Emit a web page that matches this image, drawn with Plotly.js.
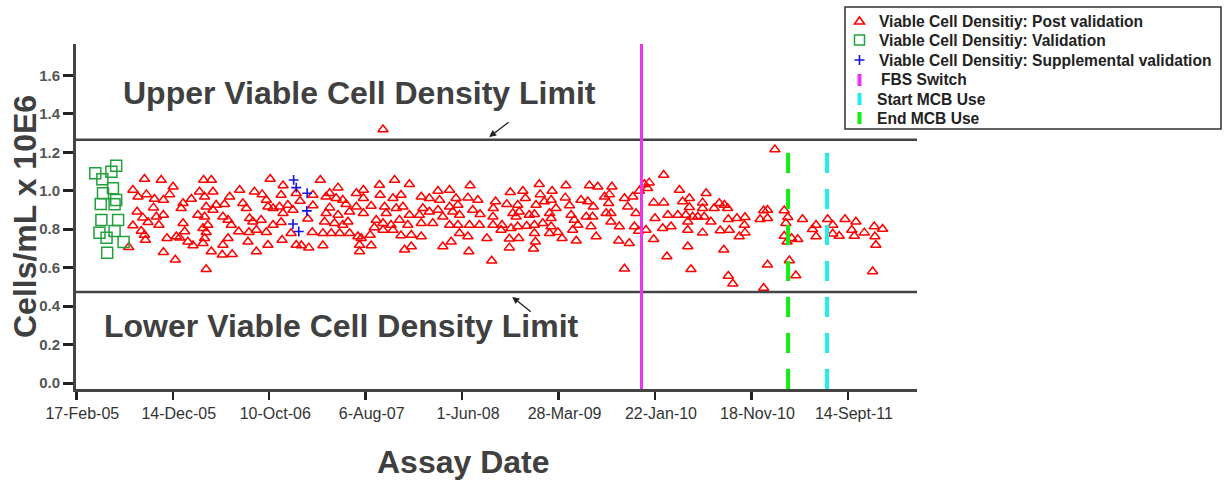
<!DOCTYPE html>
<html>
<head>
<meta charset="utf-8">
<script src="https://cdn.plot.ly/plotly-3.0.1.min.js"></script>
<style>html,body{margin:0;padding:0;background:#fff;}#chart{width:1226px;height:481px;}</style>
</head>
<body>
<div id="chart"></div>
<script>
// ---- data (days after 17-Feb-05, and viable cell density in cells/mL x 10E6) ----
const startDate = '2005-02-17';

const tickDates = ['2005-02-17','2005-12-14','2006-10-10','2007-08-06','2008-06-01','2009-03-28','2010-01-22','2010-11-18','2011-09-14'];
const tickLabels = ['17-Feb-05','14-Dec-05','10-Oct-06','6-Aug-07','1-Jun-08','28-Mar-09','22-Jan-10','18-Nov-10','14-Sept-11'];

const yTickVals = [0, 0.2, 0.4, 0.6, 0.8, 1.0, 1.2, 1.4, 1.6];
const yTickLabels = ['0.0', '0.2', '0.4', '0.6', '0.8', '1.0', '1.2', '1.4', '1.6'];

const upperLimit = 1.265;
const lowerLimit = 0.473;

const eventNames = ['FBS Switch', 'Start MCB Use', 'End MCB Use'];
const eventDates = ['2009-12-11', '2011-07-11', '2011-03-12'];

const seriesNames = ['Viable Cell Densitiy: Post validation', 'Viable Cell Densitiy: Validation', 'Viable Cell Densitiy: Supplemental validation'];

const validationDays = [59,81,109,124,114,83,124,76,119,78,130,72,119,94,147,96];
const validationVals = [1.091,1.060,1.099,1.130,1.013,0.987,0.952,0.931,0.930,0.848,0.848,0.782,0.791,0.756,0.734,0.678];

const supplementalDays = [676,684,718,717,674,692];
const supplementalVals = [1.056,1.016,0.987,0.895,0.827,0.788];

const postDays = [
 163,212,264,396,420,603,176,192,218,243, 271,290,301,240,189,207,223,249,271,257,
 176,202,212,215,271,308,282,311,326,332, 358,383,399,425,404,435,461,425,378,399,
 456,472,332,337,321,347,363,394,409,404, 399,394,420,456,472,454,485,404,477,508,
 482,505,518,529,539,534,560,537,560,554, 578,591,596,612,575,596,591,549,612,
 643,637,632,658,643,674,684,696,736,736, 720,637,668,640,684,700,723,767,734,759,
 814,788,777,808,829,839,788,777,814,850, 871,803,772,829,845,767,793,819,850,876,
 886,881,881,917,914,927,871,893,893,917, 893,933,943,945,959,964,990,985,1010,995,
 1016,954,979,1005,954,985,1010,1036,1036,1031, 1042,1021,1042,1073,1078,1067,1073,1073,1098,1098,
 1109,1125,1130,1125,1140,1161,1161,1181,1187,1171, 1192,1161,1192,1187,1218,1225,1233,1223,1218,1140,
 1166,1221,954,
 1249,1256,1254,1277,1292,1304,1297,1296,1296,1324, 1321,1339,1350,1389,1397,1373,1358,1378,1368,1352,
 1373,1347,1376,1347,1401,1409,1425,1430,1440,1443, 1456,1425,1425,1428,1422,1480,1477,1492,1472,1477,
 1451,1477,1472,1498,1511,1523,1521,1534,1539,1549, 1560,1544,1555,1570,1591,1596,1622,1608,1586,1606,
 1601,1617,1643,1658,1666,1656,1648,1663,1663,1689, 1687,1720,1705,1705,1715,1731,1741,1736,1749,1751,
 1767,
 1777,1782,1827,1772,1796,1796,1827,1800,1824,1840, 1850,1871,1876,1886,1907,1907,1896,1902,1902,1917,
 1933,1948,1959,1948,1953,1974,1948,1902,1837,1912, 1984,2000,2016,2026,2003,2031,2014,2028,2062,2080,
 2078,2055,2080,2028,2042,2138,2127,2138,2150,2150, 2150,2173,2202,2213,2207,2202,2211,2225,2244,2218,
 2238,2259,2290,2301,2301,2337,2353,2353,2373,2391, 2412,2425,2420,2451,2482,2484,2487,2508,2477
];
const postVals = [
 0.706,1.061,1.056,1.056,1.056,1.061,1.004,0.969,0.981,0.957, 0.952,0.981,1.021,0.912,0.891,0.860,0.836,0.865,0.874,0.822,
 0.819,0.791,0.770,0.744,0.680,0.641,0.753,0.762,0.909,0.935, 0.957,0.995,0.969,0.995,0.917,0.926,0.930,0.900,0.874,0.865,
 0.865,0.848,0.831,0.788,0.756,0.735,0.715,0.805,0.822,0.784, 0.753,0.727,0.684,0.718,0.753,0.667,0.670,0.592,0.969,1.004,
 0.822,0.788,0.935,0.909,0.857,0.735,0.684,0.784,0.796,0.995, 0.981,0.952,0.917,0.909,0.848,0.718,0.784,0.839,0.822,
 1.027,0.978,0.917,0.926,0.883,0.900,0.987,0.947,0.978,0.923, 0.854,0.836,0.779,0.744,0.718,0.715,0.704,0.715,0.784,1.056,
 1.016,0.987,0.969,0.961,0.952,0.930,0.912,0.883,0.874,0.891, 0.917,0.831,0.839,0.822,0.839,0.779,0.779,0.779,0.779,0.762,
 0.753,0.718,0.684,0.715,0.770,0.809,0.987,1.004,0.961,0.921, 0.883,0.848,1.030,0.978,0.917,0.883,1.056,0.961,0.978,0.909,
 0.917,0.831,0.822,0.848,0.796,0.796,0.767,1.034,0.874,0.822, 0.770,0.693,0.710,0.969,0.909,0.874,0.831,0.762,0.961,0.891,
 0.831,0.999,0.952,0.900,0.865,1.004,0.917,0.961,0.926,0.891, 0.874,0.822,0.779,0.822,0.964,1.027,0.900,0.822,0.762,0.710,
 0.735,0.684,1.318,
 0.952,0.878,0.822,0.753,0.636,0.944,0.909,0.865,0.822,0.822, 0.796,0.930,0.992,0.999,0.961,0.926,0.883,0.891,0.865,0.805,
 0.814,0.750,0.753,0.704,0.817,0.874,0.878,0.926,1.034,0.981, 0.944,0.822,0.779,0.735,0.698,0.999,0.952,0.909,0.883,0.857,
 0.831,0.814,0.779,0.784,0.753,1.027,0.964,0.923,0.874,0.848, 0.822,0.796,0.740,0.952,0.944,1.027,1.021,0.917,0.865,0.865,
 0.814,0.762,0.969,0.981,1.021,0.935,0.883,0.883,0.839,0.814, 0.740,0.727,0.594,0.961,0.917,0.969,0.883,0.814,0.791,0.999,
 1.034,
 1.013,1.042,1.082,0.796,0.748,0.938,0.938,0.857,0.805,0.874, 0.814,0.874,1.004,0.944,0.961,0.914,0.874,0.839,0.796,0.865,
 0.865,0.938,0.987,0.909,0.865,0.839,0.782,0.710,0.658,0.592, 0.909,0.935,0.926,0.909,0.793,0.796,0.693,0.852,0.762,0.782,
 0.822,0.857,0.862,0.557,0.516,0.494,0.852,0.897,0.900,0.857, 0.615,1.214,0.897,0.862,0.831,0.765,0.735,0.753,0.748,0.637,
 0.559,0.852,0.800,0.822,0.762,0.852,0.822,0.776,0.765,0.852, 0.796,0.839,0.765,0.782,0.814,0.762,0.718,0.801,0.580
];

// ---- helpers ----
const START_MS = Date.parse(startDate + 'T00:00:00Z');
function dayToDate(d) { return new Date(START_MS + d * 86400000).toISOString().slice(0, 10); }

const W = 1226, H = 481;
const M = { l: 76, r: 309, t: 44, b: 92 };
const PW = W - M.l - M.r, PH = H - M.t - M.b;
const px = v => (v - M.l) / PW;        // page pixel -> paper x
const py = v => (H - M.b - v) / PH;    // page pixel -> paper y

const colPost = '#ff0000', colVal = '#22a03c', colSup = '#1515e0';
const eventColors = ['#ee33ee', '#22eeee', '#11ee11'];
const fontMain = 'Liberation Sans, Arial, sans-serif';
const fontNarrow = 'Liberation Sans Narrow, Arial Narrow, Liberation Sans, Arial, sans-serif';

const traces = [
  { type: 'scatter', mode: 'markers', name: seriesNames[0], showlegend: false,
    x: postDays.map(dayToDate), y: postVals,
    marker: { symbol: 'triangle-up-open', size: 9, color: colPost, line: { width: 1.5, color: colPost } } },
  { type: 'scatter', mode: 'markers', name: seriesNames[1], showlegend: false,
    x: validationDays.map(dayToDate), y: validationVals,
    marker: { symbol: 'square-open', size: 11, color: colVal, line: { width: 1.5, color: colVal } } },
  { type: 'scatter', mode: 'markers', name: seriesNames[2], showlegend: false,
    x: supplementalDays.map(dayToDate), y: supplementalVals,
    marker: { symbol: 'cross-thin-open', size: 7, color: colSup, line: { width: 1.6, color: colSup } } }
];

const shapes = [
  { type: 'line', xref: 'paper', x0: 0, x1: 1, yref: 'y', y0: upperLimit, y1: upperLimit, line: { color: '#444', width: 2.5 } },
  { type: 'line', xref: 'paper', x0: 0, x1: 1, yref: 'y', y0: lowerLimit, y1: lowerLimit, line: { color: '#444', width: 2.5 } },
  { type: 'line', xref: 'x', x0: eventDates[0], x1: eventDates[0], yref: 'paper', y0: 0, y1: 1, line: { color: eventColors[0], width: 3 } },
  { type: 'line', xref: 'x', x0: eventDates[2], x1: eventDates[2], yref: 'y', y0: -0.031, y1: upperLimit, line: { color: eventColors[2], width: 4, dash: '20px,16px' } },
  { type: 'line', xref: 'x', x0: eventDates[1], x1: eventDates[1], yref: 'y', y0: -0.031, y1: upperLimit, line: { color: eventColors[1], width: 4, dash: '20px,16px' } }
];

const labelFont = { family: fontMain, size: 32, color: '#404040', weight: 'bold' };
const annotations = [
  { xref: 'paper', yref: 'paper', x: px(121), y: py(93), xanchor: 'left', yanchor: 'middle', showarrow: false,
    text: 'Upper Viable Cell Density Limit', font: labelFont },
  { xref: 'paper', yref: 'paper', x: px(102), y: py(326), xanchor: 'left', yanchor: 'middle', showarrow: false,
    text: 'Lower Viable Cell Density Limit', font: labelFont },
  { xref: 'x', yref: 'y', x: dayToDate(1284), y: 1.279, ax: 21, ay: -16, text: '', showarrow: true,
    arrowhead: 2, arrowsize: 1, arrowwidth: 1.4, arrowcolor: '#222' },
  { xref: 'x', yref: 'y', x: dayToDate(1356), y: 0.448, ax: 20, ay: 16, text: '', showarrow: true,
    arrowhead: 2, arrowsize: 1, arrowwidth: 1.4, arrowcolor: '#222' },
  { xref: 'paper', yref: 'paper', x: px(463), y: py(462), xanchor: 'center', yanchor: 'middle', showarrow: false,
    text: 'Assay Date', font: labelFont },
  { xref: 'paper', yref: 'paper', x: px(25), y: py(217), xanchor: 'center', yanchor: 'middle', showarrow: false,
    textangle: -90, text: 'Cells/mL x 10E6', font: labelFont }
];

// ---- legend box (drawn with shapes + text annotations) ----
const legRowY = [21, 40, 60, 80, 99, 118];
const legTextX = [877, 877, 877, 879, 875, 875];
const legNames = seriesNames.concat(eventNames);
const symX = 859.5;
shapes.push({ type: 'rect', xref: 'paper', yref: 'paper', x0: px(845), x1: px(1221), y0: py(7), y1: py(129),
  line: { color: '#333', width: 1.5 }, fillcolor: '#ffffff', layer: 'above' });
// triangle
shapes.push({ type: 'path', xref: 'paper', yref: 'paper', layer: 'above',
  path: `M ${px(symX - 5)} ${py(legRowY[0] + 3)} L ${px(symX + 5)} ${py(legRowY[0] + 3)} L ${px(symX)} ${py(legRowY[0] - 4)} Z`,
  line: { color: colPost, width: 1.6 } });
// square
shapes.push({ type: 'rect', xref: 'paper', yref: 'paper', layer: 'above',
  x0: px(symX - 5), x1: px(symX + 5), y0: py(legRowY[1] - 5), y1: py(legRowY[1] + 5), line: { color: colVal, width: 1.5 } });
// plus
shapes.push({ type: 'path', xref: 'paper', yref: 'paper', layer: 'above',
  path: `M ${px(symX - 5)} ${py(legRowY[2])} L ${px(symX + 5)} ${py(legRowY[2])} M ${px(symX)} ${py(legRowY[2] - 5)} L ${px(symX)} ${py(legRowY[2] + 5)}`,
  line: { color: colSup, width: 1.6 } });
// event bars
[0, 1, 2].forEach(i => {
  const yy = legRowY[3 + i];
  shapes.push({ type: 'line', xref: 'paper', yref: 'paper', layer: 'above',
    x0: px(symX), x1: px(symX), y0: py(yy - 6), y1: py(yy + 6), line: { color: eventColors[i], width: 4 } });
});
legNames.forEach((n, i) => {
  annotations.push({ xref: 'paper', yref: 'paper', x: px(legTextX[i]), y: py(legRowY[i]), xanchor: 'left', yanchor: 'middle',
    showarrow: false, text: n, font: { family: fontMain, size: 15.6, color: '#222', weight: 'bold' } });
});

const layout = {
  width: W, height: H,
  margin: M,
  paper_bgcolor: '#ffffff', plot_bgcolor: '#ffffff',
  font: { family: fontMain, color: '#333' },
  showlegend: false,
  xaxis: {
    type: 'date',
    range: [dayToDate(-1), dayToDate(2615)],
    tickmode: 'array', tickvals: tickDates, ticktext: tickLabels,
    ticks: 'outside', ticklen: 8, tickwidth: 2.5, tickcolor: '#222',
    ticklabelshift: 6,
    showline: true, linewidth: 3, linecolor: '#444',
    showgrid: false, zeroline: false,
    tickfont: { family: fontNarrow, size: 16, color: '#333' }
  },
  yaxis: {
    range: [-0.031, 1.763],
    tickmode: 'array', tickvals: yTickVals, ticktext: yTickLabels,
    ticks: 'outside', ticklen: 10, tickwidth: 3, tickcolor: '#222',
    showline: true, linewidth: 3, linecolor: '#444',
    showgrid: false, zeroline: false,
    tickfont: { family: fontMain, size: 15, color: '#555', weight: 'bold' }
  },
  shapes: shapes,
  annotations: annotations
};

Plotly.newPlot('chart', traces, layout, { displayModeBar: false, staticPlot: true });
</script>
</body>
</html>
